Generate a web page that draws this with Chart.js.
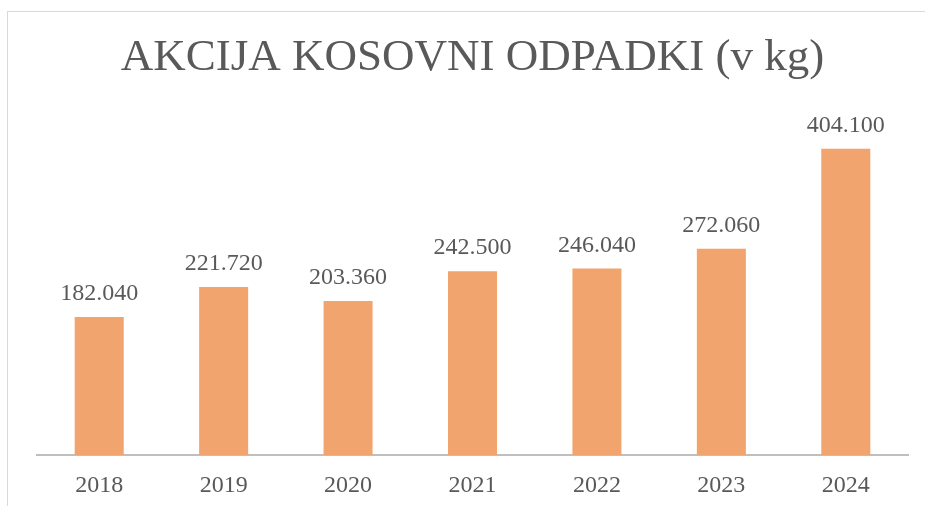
<!DOCTYPE html>
<html>
<head>
<meta charset="utf-8">
<script src="https://cdn.jsdelivr.net/npm/chart.js@4"></script>
<style>
  html, body { margin: 0; padding: 0; background: #fff; overflow: hidden; }
  #frame {
    position: absolute; left: 7px; top: 11px; width: 1000px; height: 600px;
    border: 1px solid #D9D9D9; box-sizing: border-box;
  }
  #chart { position: absolute; left: 0; top: 0; }
</style>
</head>
<body>
<div id="frame"></div>
<canvas id="chart" width="925" height="506"></canvas>
<script>
// Data
const years = ['2018', '2019', '2020', '2021', '2022', '2023', '2024'];
const kilograms = [182040, 221720, 203360, 242500, 246040, 272060, 404100];
const titleText = 'AKCIJA KOSOVNI ODPADKI (v kg)';

const TEXT_COLOR = '#595959';
const SERIF = '"Liberation Serif", "Times New Roman", serif';

/**
 * Format number with dot thousands separator (Slovene style)
 */
function formatKg(num) {
  return String(num).replace(/\B(?=(\d{3})+(?!\d))/g, '.');
}

// Draw value labels above each bar
const barLabels = {
  id: 'barLabels',
  afterDatasetsDraw(chart) {
    const ctx = chart.ctx;
    const meta = chart.getDatasetMeta(0);
    ctx.save();
    ctx.font = '24px ' + SERIF;
    ctx.fillStyle = TEXT_COLOR;
    ctx.textAlign = 'center';
    ctx.textBaseline = 'alphabetic';
    meta.data.forEach((bar, i) => {
      ctx.fillText(formatKg(kilograms[i]), bar.x, bar.y - 17);
    });
    ctx.restore();
  }
};

new Chart(document.getElementById('chart'), {
  type: 'bar',
  data: {
    labels: years,
    datasets: [{
      data: kilograms,
      backgroundColor: '#F1A46E',
      borderWidth: 0,
      categoryPercentage: 1,
      barPercentage: 0.394
    }]
  },
  options: {
    responsive: false,
    animation: false,
    layout: { padding: { left: 37, right: 17, top: 0, bottom: 6 } },
    plugins: {
      legend: { display: false },
      tooltip: { enabled: false },
      title: {
        display: true,
        text: titleText,
        color: TEXT_COLOR,
        font: { family: SERIF, size: 45, weight: 'normal', lineHeight: 1.2 },
        padding: { top: 31, bottom: 29 }
      }
    },
    scales: {
      x: {
        grid: { display: false, drawTicks: false },
        border: { display: true, color: '#BFBFBF', width: 2 },
        ticks: {
          color: TEXT_COLOR,
          padding: 16,
          font: { family: SERIF, size: 24, lineHeight: 1.2 }
        },
        afterFit(scale) {
          scale.height = 45;
        }
      },
      y: {
        display: false,
        min: 0,
        max: 450000
      }
    }
  },
  plugins: [barLabels]
});
</script>
</body>
</html>
